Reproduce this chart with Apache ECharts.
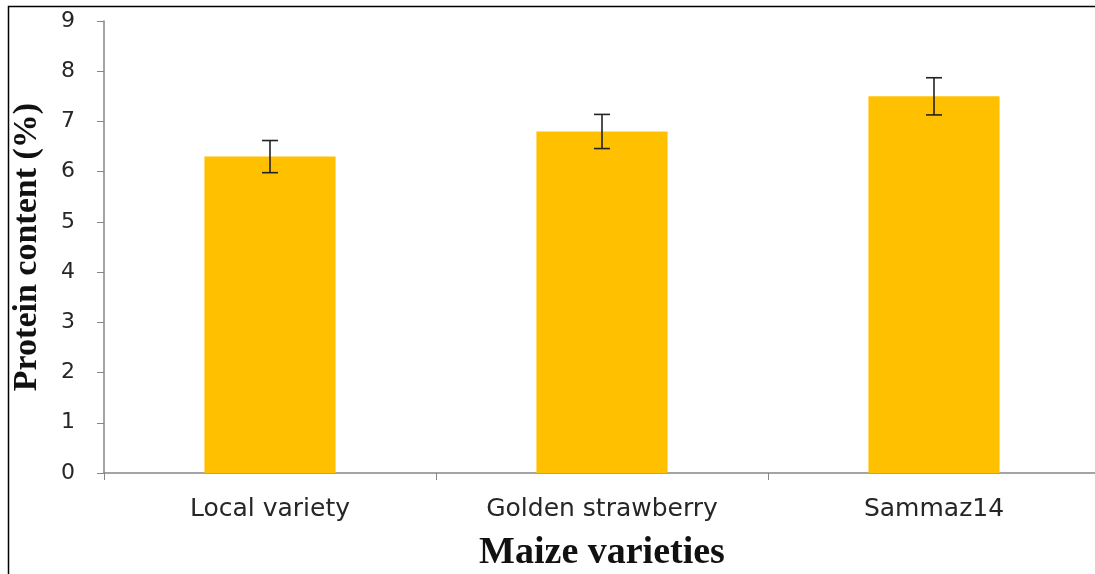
<!DOCTYPE html>
<html><head><meta charset="utf-8">
<script src="https://cdn.jsdelivr.net/npm/echarts@6/dist/echarts.min.js"></script>
<style>html,body{margin:0;padding:0;background:#fff;}#c{width:1095px;height:574px;}</style>
</head><body><div id="c"></div>
<script>
const categories = ['Local variety', 'Golden strawberry', 'Sammaz14'];
const values = [6.3, 6.8, 7.5];
const errors = [0.32, 0.34, 0.37];
const yTicks = [0, 1, 2, 3, 4, 5, 6, 7, 8, 9];

const chart = echarts.init(document.getElementById('c'));
const errData = categories.map((c, i) => [i, values[i] - errors[i], values[i] + errors[i]]);
chart.setOption({
  animation: false,
  grid: { left: 104, right: -5, top: 21, bottom: 101, containLabel: false, outerBoundsMode: 'none' },
  graphic: [{ type: 'rect', shape: { x: 8.5, y: 6.5, width: 1200, height: 700 }, style: { fill: 'none', stroke: '#000', lineWidth: 1.5 }, silent: true }],
  xAxis: {
    type: 'category', data: categories,
    axisLine: { lineStyle: { color: '#868686', width: 1.5 } },
    axisTick: { show: true, length: 7, lineStyle: { color: '#868686' } },
    axisLabel: { color: '#262626', fontFamily: 'DejaVu Sans', fontSize: 25, margin: 24 },
    name: 'Maize varieties', nameLocation: 'middle', nameGap: 61,
    nameTextStyle: { fontFamily: 'Liberation Serif', fontWeight: 'bold', fontSize: 38, color: '#111' }
  },
  yAxis: {
    type: 'value', min: 0, max: 9, interval: 1,
    axisLine: { show: true, lineStyle: { color: '#868686', width: 1.5 } },
    axisTick: { show: true, length: 7, lineStyle: { color: '#868686' } },
    splitLine: { show: false },
    axisLabel: { color: '#262626', fontFamily: 'DejaVu Sans', fontSize: 22, margin: 29, formatter: v => yTicks.includes(v) ? String(v) : '' },
    name: 'Protein content (%)', nameLocation: 'middle', nameGap: 60,
    nameTextStyle: { fontFamily: 'Liberation Serif', fontWeight: 'bold', fontSize: 34, color: '#111' }
  },
  series: [
    { type: 'bar', data: values, barWidth: '39.5%', itemStyle: { color: '#FFC000' } },
    { type: 'custom', data: errData, z: 10,
      renderItem: function (params, api) {
        const x = api.coord([api.value(0), api.value(1)])[0];
        const lo = api.coord([api.value(0), api.value(1)])[1];
        const hi = api.coord([api.value(0), api.value(2)])[1];
        const w = 8;
        const st = { stroke: '#222', lineWidth: 1.6 };
        return { type: 'group', children: [
          { type: 'line', shape: { x1: x, y1: lo, x2: x, y2: hi }, style: st },
          { type: 'line', shape: { x1: x - w, y1: lo, x2: x + w, y2: lo }, style: st },
          { type: 'line', shape: { x1: x - w, y1: hi, x2: x + w, y2: hi }, style: st }
        ]};
      }
    }
  ]
});
</script></body></html>
